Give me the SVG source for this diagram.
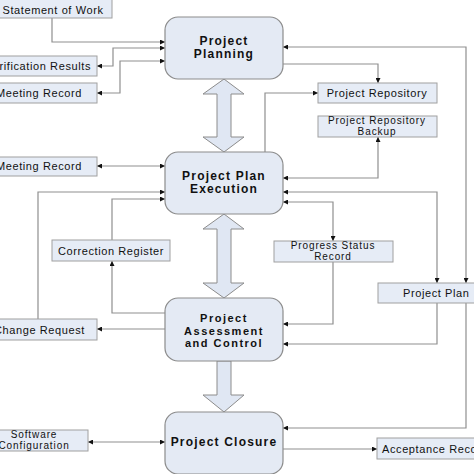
<svg xmlns="http://www.w3.org/2000/svg" width="474" height="474" viewBox="0 0 474 474">
<style>
.node rect{fill:#e4eaf4;stroke:#8c8c8c;stroke-width:1.2}
.box rect{fill:#e6ecf6;stroke:#a0a0a0;stroke-width:1}
.nt{font-family:"Liberation Sans",Arial,sans-serif;font-weight:bold;font-size:12px;letter-spacing:1.2px;fill:#111;text-anchor:middle}
.nt3{font-size:11px;letter-spacing:1.5px}
.bt{font-family:"Liberation Sans",Arial,sans-serif;font-size:11px;letter-spacing:0.6px;fill:#111}
.bt2{font-size:10px;letter-spacing:0.9px}
.c{text-anchor:middle}
.e{text-anchor:end}
.conn path{fill:none;stroke:#8f8f8f;stroke-width:1.2}
.blk{fill:#e0e7f3;stroke:#8c8c8c;stroke-width:1}
</style>
<defs>
<marker id="ah" viewBox="0 0 10 10" refX="10" refY="5" markerWidth="7" markerHeight="5" markerUnits="userSpaceOnUse" orient="auto-start-reverse">
<path d="M0,0 L10,5 L0,10 z" fill="#111"/>
</marker>
</defs>
<rect width="474" height="474" fill="#fff"/>

<g id="block-arrows">
<polygon class="blk" points="224,79 244,94 231,94 231,137 244,137 224,152 203,137 217,137 217,94 203,94"/>
<polygon class="blk" points="224,214 244,229 231,229 231,283 244,283 224,298 203,283 217,283 217,229 203,229"/>
<polygon class="blk" points="217,361 231,361 231,395 244,395 224,412 203,395 217,395"/>
</g>

<g class="conn" id="connectors">
<path d="M52,18 V42 H165" marker-end="url(#ah)"/>
<path d="M165,48 H113 V66 H97" marker-start="url(#ah)" marker-end="url(#ah)"/>
<path d="M97,93 H120 V61 H165" marker-start="url(#ah)" marker-end="url(#ah)"/>
<path d="M283,47 H466 V283" marker-start="url(#ah)" marker-end="url(#ah)"/>
<path d="M283,64 H378 V83" marker-end="url(#ah)"/>
<path d="M265,152 V93 H318" marker-end="url(#ah)"/>
<path d="M283,178 H378 V137" marker-start="url(#ah)" marker-end="url(#ah)"/>
<path d="M283,192 H437 V283" marker-start="url(#ah)" marker-end="url(#ah)"/>
<path d="M283,202 H333 V241" marker-start="url(#ah)" marker-end="url(#ah)"/>
<path d="M333,262 V324 H283" marker-end="url(#ah)"/>
<path d="M437,303 V344 H283" marker-end="url(#ah)"/>
<path d="M466,303 V428 H283" marker-end="url(#ah)"/>
<path d="M283,449 H377" marker-end="url(#ah)"/>
<path d="M88,442 H165" marker-start="url(#ah)" marker-end="url(#ah)"/>
<path d="M97,166 H165" marker-start="url(#ah)" marker-end="url(#ah)"/>
<path d="M38,319 V192 H165" marker-end="url(#ah)"/>
<path d="M112,240 V199 H165" marker-end="url(#ah)"/>
<path d="M165,313 H112 V261" marker-end="url(#ah)"/>
<path d="M165,329 H97" marker-end="url(#ah)"/>
</g>

<g id="planning" class="node">
<rect x="165" y="17" width="118" height="62" rx="13"/>
<text class="nt" x="224" y="45">Project</text>
<text class="nt" x="224" y="58">Planning</text>
</g>
<g id="execution" class="node">
<rect x="165" y="152" width="118" height="62" rx="13"/>
<text class="nt" x="224" y="180">Project Plan</text>
<text class="nt" x="224" y="193">Execution</text>
</g>
<g id="assessment" class="node">
<rect x="165" y="298" width="118" height="63" rx="13"/>
<text class="nt nt3" x="224" y="322">Project</text>
<text class="nt nt3" x="224" y="334.5">Assessment</text>
<text class="nt nt3" x="224" y="347">and Control</text>
</g>
<g id="closure" class="node">
<rect x="165" y="412" width="118" height="62" rx="13"/>
<text class="nt" x="224" y="446">Project Closure</text>
</g>

<g id="sow" class="box">
<rect x="-10" y="-2" width="122" height="20"/>
<text class="bt c" x="53" y="14">Statement of Work</text>
</g>
<g id="verification" class="box">
<rect x="-10" y="56" width="107" height="20"/>
<text class="bt e" x="91" y="70">Verification Results</text>
</g>
<g id="meeting1" class="box">
<rect x="-10" y="83" width="107" height="20"/>
<text class="bt e" x="82" y="97">Meeting Record</text>
</g>
<g id="meeting2" class="box">
<rect x="-10" y="157" width="107" height="19"/>
<text class="bt e" x="82" y="170">Meeting Record</text>
</g>
<g id="correction" class="box">
<rect x="52" y="240" width="118" height="21"/>
<text class="bt c" x="111" y="255">Correction Register</text>
</g>
<g id="change" class="box">
<rect x="-10" y="319" width="107" height="21"/>
<text class="bt e" x="85" y="334">Change Request</text>
</g>
<g id="swconfig" class="box">
<rect x="-20" y="430" width="108" height="21"/>
<text class="bt bt2 c" x="34" y="438">Software</text>
<text class="bt bt2 c" x="34" y="449">Configuration</text>
</g>
<g id="repo" class="box">
<rect x="318" y="83" width="119" height="20"/>
<text class="bt c" x="377" y="97">Project Repository</text>
</g>
<g id="backup" class="box">
<rect x="318" y="116" width="119" height="21"/>
<text class="bt bt2 c" x="377" y="124">Project Repository</text>
<text class="bt bt2 c" x="377" y="135">Backup</text>
</g>
<g id="progress" class="box">
<rect x="274" y="241" width="119" height="21"/>
<text class="bt bt2 c" x="333" y="249">Progress Status</text>
<text class="bt bt2 c" x="333" y="260">Record</text>
</g>
<g id="projplan" class="box">
<rect x="378" y="283" width="110" height="20"/>
<text class="bt" x="403" y="297">Project Plan</text>
</g>
<g id="acceptance" class="box">
<rect x="377" y="438" width="110" height="21"/>
<text class="bt" x="382" y="453">Acceptance Record</text>
</g>
</svg>
